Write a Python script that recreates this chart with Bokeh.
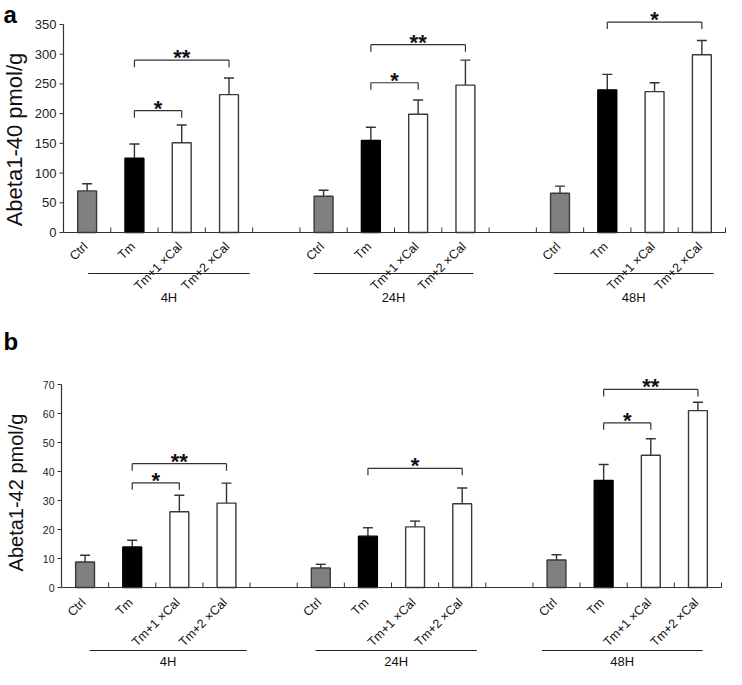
import math
from bokeh.plotting import figure
from bokeh.models import Range1d, ColumnDataSource
from bokeh.layouts import column
from bokeh.embed import file_html
from bokeh.resources import INLINE
from bokeh.core.properties import value

# ---------------- data ----------------
groups = ["4H", "24H", "48H"]
categories = ["Ctrl", "Tm", "Tm+1 ×Cal", "Tm+2 ×Cal"]

# Panel a: Abeta1-40 (pmol/g)
a40_mean_4h = [70, 125, 151, 232]
a40_mean_24h = [61, 155, 199, 248]
a40_mean_48h = [66, 240, 237, 299]
a40_sd_4h = [12, 24, 30, 28]
a40_sd_24h = [10, 22, 24, 42]
a40_sd_48h = [12, 26, 15, 24]
a40_ticks = [0, 50, 100, 150, 200, 250, 300, 350]
# (group, from, to, bracket level, mark)
a40_sig = [
    ("4H", "Tm", "Tm+1 ×Cal", 205, "*"),
    ("4H", "Tm", "Tm+2 ×Cal", 290, "**"),
    ("24H", "Tm", "Tm+1 ×Cal", 252, "*"),
    ("24H", "Tm", "Tm+2 ×Cal", 316, "**"),
    ("48H", "Tm", "Tm+2 ×Cal", 354, "*"),
]

# Panel b: Abeta1-42 (pmol/g)
a42_mean_4h = [8.8, 14.0, 26.1, 29.1]
a42_mean_24h = [6.7, 17.7, 20.9, 28.9]
a42_mean_48h = [9.5, 36.9, 45.6, 61.0]
a42_sd_4h = [2.3, 2.3, 5.7, 6.9]
a42_sd_24h = [1.3, 2.9, 2.0, 5.4]
a42_sd_48h = [1.8, 5.5, 5.7, 2.9]
a42_ticks = [0, 10, 20, 30, 40, 50, 60, 70]
a42_sig = [
    ("4H", "Tm", "Tm+1 ×Cal", 36.1, "*"),
    ("4H", "Tm", "Tm+2 ×Cal", 42.7, "**"),
    ("24H", "Tm", "Tm+2 ×Cal", 41.1, "*"),
    ("48H", "Tm", "Tm+1 ×Cal", 56.8, "*"),
    ("48H", "Tm", "Tm+2 ×Cal", 68.3, "**"),
]

FONT = "Liberation Sans"
FILLS = ["#808080", "#000000", "#ffffff", "#ffffff"]
LINES = ["#3a3a3a", "#000000", "#3a3a3a", "#3a3a3a"]
AX = "#333333"
W = 726


def slot_x(g, c):
    return g * 5 + c + 0.5


def make_panel(means, sds, sig, letter, ylabel, yticks, fig_h, base_px, y_px,
               axis_x, axis_end, ylabel_size, ylabel_fx, ylabel_fy,
               letter_fy, letter_size, tick_font, group_lines, lab_dy, gline_fy, gtext_fy):
    sp = (axis_end - axis_x) / 14.0          # pixels per category slot
    x0r = -axis_x / sp
    x1r = (W - axis_x) / sp
    y_top = base_px / y_px
    y_bot = -(fig_h - base_px) / y_px
    fx = lambda px: (px - axis_x) / sp          # figure pixel -> data x
    fy = lambda py: (base_px - py) / y_px       # figure pixel -> data y

    p = figure(width=W, height=fig_h, x_range=Range1d(x0r, x1r), y_range=Range1d(y_bot, y_top),
               x_axis_type=None, y_axis_type=None, title=None, toolbar_location=None,
               output_backend="svg", min_border=0, outline_line_color=None,
               background_fill_color="white", border_fill_color="white")
    p.grid.visible = False

    xs, tops, fills, lines, errs = [], [], [], [], []
    for g, gname in enumerate(groups):
        for c in range(4):
            xs.append(slot_x(g, c))
            tops.append(means[g][c])
            errs.append(means[g][c] + sds[g][c])
            fills.append(FILLS[c])
            lines.append(LINES[c])
    src = ColumnDataSource(dict(x=xs, top=tops, err=errs, fill=fills, line=lines))

    # error bars (upper only)
    cap = 5.0 / sp
    p.segment(x0="x", y0="top", x1="x", y1="err", source=src, line_color=AX, line_width=1.4)
    p.segment(x0=[x - cap for x in xs], y0=errs, x1=[x + cap for x in xs], y1=errs,
              line_color=AX, line_width=1.4)
    p.vbar(x="x", top="top", bottom=0, width=0.4, source=src, fill_color="fill",
           line_color="line", line_width=1.4)

    # y axis (line, ticks, tick labels)
    p.segment(x0=[0], y0=[yticks[0]], x1=[0], y1=[yticks[-1]], line_color=AX, line_width=1.2)
    p.segment(x0=[0] * len(yticks), y0=yticks, x1=[-4.0 / sp] * len(yticks), y1=yticks,
              line_color=AX, line_width=1)
    p.text(x=[-7.0 / sp] * len(yticks), y=yticks, text=[str(t) for t in yticks],
           text_align="right", text_baseline="middle", text_font=value(FONT),
           text_font_size=tick_font, text_color="#222222")

    # x axis line + ticks between categories
    p.segment(x0=[0], y0=[0], x1=[14], y1=[0], line_color=AX, line_width=1.2)
    tk = list(range(1, 15))
    p.segment(x0=tk, y0=[0] * len(tk), x1=tk, y1=[5.0 / y_px] * len(tk), line_color=AX, line_width=1)

    # category labels
    lx = [x - 1.5 / sp for x in xs]
    ly = [-lab_dy / y_px] * len(xs)
    p.text(x=lx, y=ly, text=categories * 3, angle=math.pi / 4, text_align="right",
           text_baseline="middle", text_font=value(FONT), text_font_size="12.5px",
           text_color="#111111")

    # group lines and labels
    gy = fy(gline_fy)
    p.segment(x0=[a for a, b in group_lines], y0=[gy] * 3, x1=[b for a, b in group_lines],
              y1=[gy] * 3, line_color="#222222", line_width=1)
    p.text(x=[(a + b) / 2 for a, b in group_lines], y=[fy(gtext_fy)] * 3, text=groups,
           text_align="center", text_baseline="middle", text_font=value(FONT),
           text_font_size="13px", text_color="#111111")

    # significance brackets
    leg = 7.0 / y_px
    bx0, bx1, by0, by1, sx, sy, st = [], [], [], [], [], [], []
    for gname, c0, c1, lvl, mark in sig:
        g = groups.index(gname)
        xa = slot_x(g, categories.index(c0))
        xb = slot_x(g, categories.index(c1))
        bx0 += [xa, xa, xb]
        bx1 += [xb, xa, xb]
        by0 += [lvl, lvl, lvl]
        by1 += [lvl, lvl - leg, lvl - leg]
        sx.append((xa + xb) / 2)
        sy.append(lvl + 2.5 / y_px)
        st.append(mark)
    p.segment(x0=bx0, y0=by0, x1=bx1, y1=by1, line_color=AX, line_width=1.2)
    p.text(x=sx, y=sy, text=st, text_align="center", text_baseline="middle",
           text_font=value(FONT), text_font_style="bold", text_font_size="22px",
           text_color="#111111")

    # y title and panel letter
    p.text(x=[fx(ylabel_fx)], y=[fy(ylabel_fy)], text=[ylabel], angle=math.pi / 2,
           text_align="center", text_baseline="middle", text_font=value(FONT),
           text_font_size=ylabel_size, text_color="#111111")
    p.text(x=[fx(3)], y=[fy(letter_fy)], text=[letter], text_align="left",
           text_baseline="middle", text_font=value(FONT), text_font_style="bold",
           text_font_size=letter_size, text_color="#000000")
    return p


pa = make_panel(
    [a40_mean_4h, a40_mean_24h, a40_mean_48h], [a40_sd_4h, a40_sd_24h, a40_sd_48h], a40_sig,
    "a", "Abeta1-40 pmol/g", a40_ticks, fig_h=316, base_px=232, y_px=208 / 350,
    axis_x=63, axis_end=725, ylabel_size="22px", ylabel_fx=14, ylabel_fy=139,
    letter_fy=14, letter_size="24px", tick_font="13px",
    group_lines=[(0.52, 3.94), (5.29, 8.67), (10.37, 13.75)], lab_dy=12,
    gline_fy=273, gtext_fy=297)

pb = make_panel(
    [a42_mean_4h, a42_mean_24h, a42_mean_48h], [a42_sd_4h, a42_sd_24h, a42_sd_48h], a42_sig,
    "b", "Abeta1-42 pmol/g", a42_ticks, fig_h=353, base_px=271, y_px=203 / 70,
    axis_x=61, axis_end=721, ylabel_size="20px", ylabel_fx=15, ylabel_fy=176,
    letter_fy=25, letter_size="24px", tick_font="10.5px",
    group_lines=[(0.595, 3.93), (5.39, 8.81), (10.19, 13.6)], lab_dy=13,
    gline_fy=334, gtext_fy=345)

layout = column(pa, pb, spacing=0)
open("out.html", "w").write(file_html(layout, INLINE))
